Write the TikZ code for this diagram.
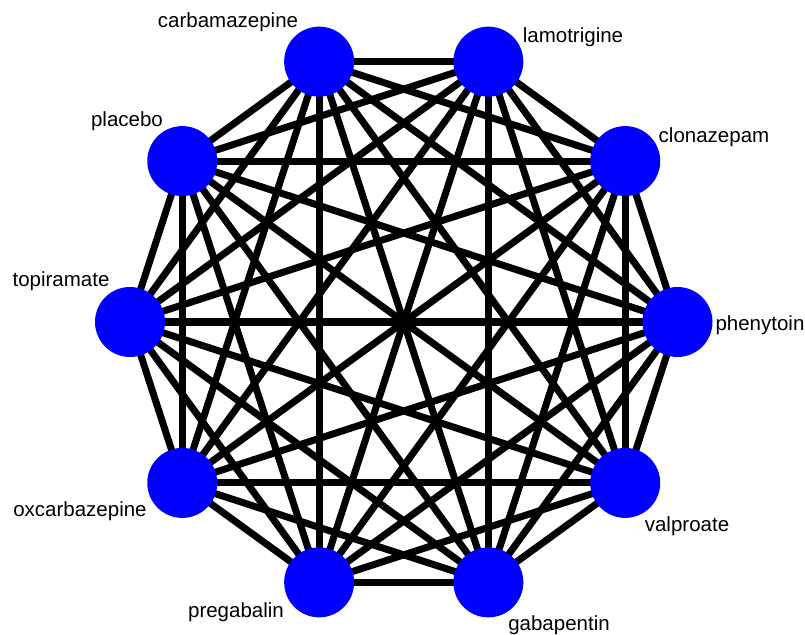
\documentclass[tikz,border=0pt]{standalone}
\usepackage{fontspec}
\setmainfont{Liberation Sans}
\usepackage{xcolor}
\usepackage{tikz}
\usetikzlibrary{backgrounds}
\definecolor{drugblue}{HTML}{0000FF}

\begin{document}
\begin{tikzpicture}[x=1pt,y=1pt,
    drug/.style={circle,fill=drugblue,minimum size=70pt,inner sep=0pt},
    edge/.style={line width=7pt},
    lbl/.style={anchor=base,font=\fontsize{20.5}{24}\selectfont,inner sep=0pt}]
  \def\rr{273.75}
  \useasboundingbox (-403.75,-312) rectangle (401.25,322);
  % the ten treatments on a circle
  \node[drug] (carb) at (108:\rr) {};
  \node[drug] (lamo) at (72:\rr) {};
  \node[drug] (clon) at (36:\rr) {};
  \node[drug] (phen) at (0:\rr) {};
  \node[drug] (valp) at (-36:\rr) {};
  \node[drug] (gaba) at (-72:\rr) {};
  \node[drug] (preg) at (-108:\rr) {};
  \node[drug] (oxca) at (-144:\rr) {};
  \node[drug] (topi) at (180:\rr) {};
  \node[drug] (plac) at (144:\rr) {};
  % every pair is compared
  \begin{scope}[on background layer]
    \foreach \a [count=\i] in {carb,lamo,clon,phen,valp,gaba,preg,oxca,topi,plac}
      \foreach \b [count=\j] in {carb,lamo,clon,phen,valp,gaba,preg,oxca,topi,plac}
        {\ifnum\j>\i \draw[edge] (\a.center) -- (\b.center); \fi}
  \end{scope}
  \node[lbl] (carbl) at (-175.75,294) {carbamazepine};
  \node[lbl] (lamol) at (169.25,279) {lamotrigine};
  \node[lbl] (clonl) at (310.25,179) {clonazepam};
  \node[lbl] (phenl) at (356.25,-9) {phenytoin};
  \node[lbl] (valpl) at (283.25,-209) {valproate};
  \node[lbl] (gabal) at (155.25,-308) {gabapentin};
  \node[lbl] (pregl) at (-167.75,-295) {pregabalin};
  \node[lbl] (oxcal) at (-323.75,-194) {oxcarbazepine};
  \node[lbl] (topil) at (-342.75,35) {topiramate};
  \node[lbl] (placl) at (-276.75,195) {placebo};
\end{tikzpicture}
\end{document}
